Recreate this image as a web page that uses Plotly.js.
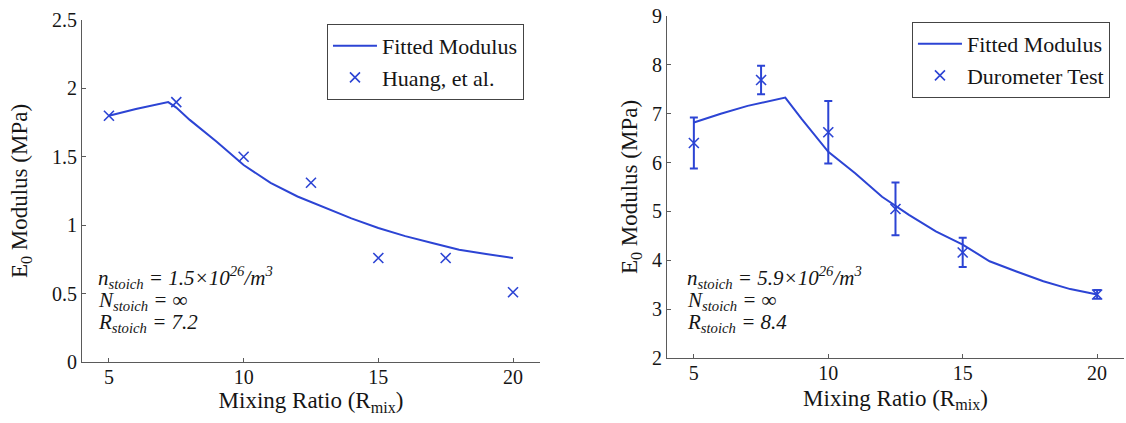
<!DOCTYPE html>
<html>
<head>
<meta charset="utf-8">
<script src="https://cdn.plot.ly/plotly-3.0.1.min.js"></script>
<style>html,body{margin:0;padding:0;background:#fff;}#chart{width:1126px;height:423px;}</style>
</head>
<body>
<div id="chart"></div>
<script>
// Left panel: fitted curve and Huang et al. data
const fitLeftX = [5, 6, 7.2, 7.5, 8, 9, 10, 11, 12, 13, 14, 15, 16, 17, 18, 19, 20];
const fitLeftY = [1.80, 1.85, 1.90, 1.86, 1.77, 1.61, 1.44, 1.31, 1.21, 1.13, 1.05, 0.98, 0.92, 0.87, 0.82, 0.79, 0.76];
const huangX = [5, 7.5, 10, 12.5, 15, 17.5, 20];
const huangY = [1.80, 1.90, 1.50, 1.31, 0.76, 0.76, 0.51];

// Right panel: fitted curve and durometer test data
const fitRightX = [5, 6, 7, 8.4, 9, 10, 11, 12, 13, 14, 15, 16, 17, 18, 19, 20];
const fitRightY = [6.82, 7.00, 7.16, 7.33, 6.90, 6.22, 5.78, 5.30, 4.93, 4.59, 4.32, 3.98, 3.77, 3.57, 3.41, 3.30];
const duroX = [5, 7.5, 10, 12.5, 15, 20];
const duroY = [6.40, 7.69, 6.62, 5.05, 4.16, 3.30];
const duroErr = [0.52, 0.29, 0.64, 0.54, 0.30, 0.09];

const xTicks = [5, 10, 15, 20];
const leftYTicks = [0, 0.5, 1, 1.5, 2, 2.5];
const leftYLabels = ['0', '0.5', '1', '1.5', '2', '2.5'];
const rightYTicks = [2, 3, 4, 5, 6, 7, 8, 9];

const leftNotes = [
  '<i>n</i><sub><i>stoich</i></sub> <i>= 1.5×10<sup>26</sup>/m<sup>3</sup></i>',
  '<i>N</i><sub><i>stoich</i></sub> <i>= ∞</i>',
  '<i>R</i><sub><i>stoich</i></sub> <i>= 7.2</i>'
];
const rightNotes = [
  '<i>n</i><sub><i>stoich</i></sub> <i>= 5.9×10<sup>26</sup>/m<sup>3</sup></i>',
  '<i>N</i><sub><i>stoich</i></sub> <i>= ∞</i>',
  '<i>R</i><sub><i>stoich</i></sub> <i>= 8.4</i>'
];

const BLUE = '#2c44d4';
const INK = '#151515';
const AX = '#5a5a5a';
const FONT = 'Liberation Serif, Times New Roman, serif';

const traces = [
  {x: fitLeftX, y: fitLeftY, type: 'scatter', mode: 'lines', name: 'Fitted Modulus',
   line: {color: BLUE, width: 2}, xaxis: 'x', yaxis: 'y', legend: 'legend'},
  {x: huangX, y: huangY, type: 'scatter', mode: 'markers', name: 'Huang, et al.',
   marker: {symbol: 'x-thin', size: 10, line: {color: BLUE, width: 1.6}, color: BLUE},
   xaxis: 'x', yaxis: 'y', legend: 'legend'},
  {x: fitRightX, y: fitRightY, type: 'scatter', mode: 'lines', name: 'Fitted Modulus',
   line: {color: BLUE, width: 2}, xaxis: 'x2', yaxis: 'y2', legend: 'legend2'},
  {x: duroX, y: duroY, type: 'scatter', mode: 'markers', name: 'Durometer Test',
   marker: {symbol: 'x-thin', size: 10, line: {color: BLUE, width: 1.6}, color: BLUE},
   error_y: {type: 'data', array: duroErr, visible: true, color: BLUE, thickness: 2, width: 4},
   xaxis: 'x2', yaxis: 'y2', legend: 'legend2'}
];

function xAxis(domain, anchor, standoff) {
  return {
    domain: domain, anchor: anchor, range: [4, 21], tickvals: xTicks,
    ticks: 'inside', ticklen: 4, tickcolor: AX, showline: true, linecolor: AX, linewidth: 1,
    showgrid: false, zeroline: false, ticklabelstandoff: -3,
    tickfont: {family: FONT, size: 20, color: INK},
    title: {text: 'Mixing Ratio (R<sub>mix</sub>)', font: {family: FONT, size: 23, color: INK}, standoff: standoff}
  };
}
function yAxis(domain, anchor, range, vals, labels, standoff) {
  const a = {
    domain: domain, anchor: anchor, range: range, tickvals: vals,
    ticks: 'inside', ticklen: 4, tickcolor: AX, showline: true, linecolor: AX, linewidth: 1,
    showgrid: false, zeroline: false, tickfont: {family: FONT, size: 20, color: INK},
    title: {text: 'E<sub>0</sub> Modulus (MPa)', font: {family: FONT, size: 23, color: INK}, standoff: standoff}
  };
  if (labels) a.ticktext = labels;
  return a;
}

const legendCommon = {
  font: {family: FONT, size: 22, color: INK}, bgcolor: '#fff', bordercolor: '#444',
  borderwidth: 1, xanchor: 'left', yanchor: 'top', tracegroupgap: 0, itemwidth: 44
};

function noteAnnotations(xPaper, texts) {
  const ys = [0.2428, 0.1763, 0.1127];
  return texts.map((t, i) => ({
    xref: 'paper', yref: 'paper', x: xPaper, y: ys[i], xanchor: 'left', yanchor: 'middle',
    align: 'left', showarrow: false, text: t, font: {family: FONT, size: 21, color: INK}
  }));
}

const layout = {
  width: 1126, height: 423,
  font: {family: FONT, size: 20, color: INK},
  margin: {l: 82, r: 2, t: 16, b: 61},
  paper_bgcolor: '#fff', plot_bgcolor: '#fff',
  showlegend: true,
  xaxis: xAxis([0, 0.4395], 'y', 0),
  yaxis: yAxis([0, 0.9884], 'x', [0, 2.5], leftYTicks, leftYLabels, 17),
  xaxis2: xAxis([0.5614, 1], 'y2', 6),
  yaxis2: yAxis([0.0116, 1], 'x2', [2, 9], rightYTicks, null, 7),
  legend: Object.assign({x: 0.2351, y: 0.9769}, legendCommon),
  legend2: Object.assign({x: 0.7965, y: 0.9827}, legendCommon),
  annotations: noteAnnotations(0.0134, leftNotes).concat(noteAnnotations(0.5787, rightNotes))
};

Plotly.newPlot('chart', traces, layout, {displayModeBar: false, staticPlot: true});
</script>
</body>
</html>
